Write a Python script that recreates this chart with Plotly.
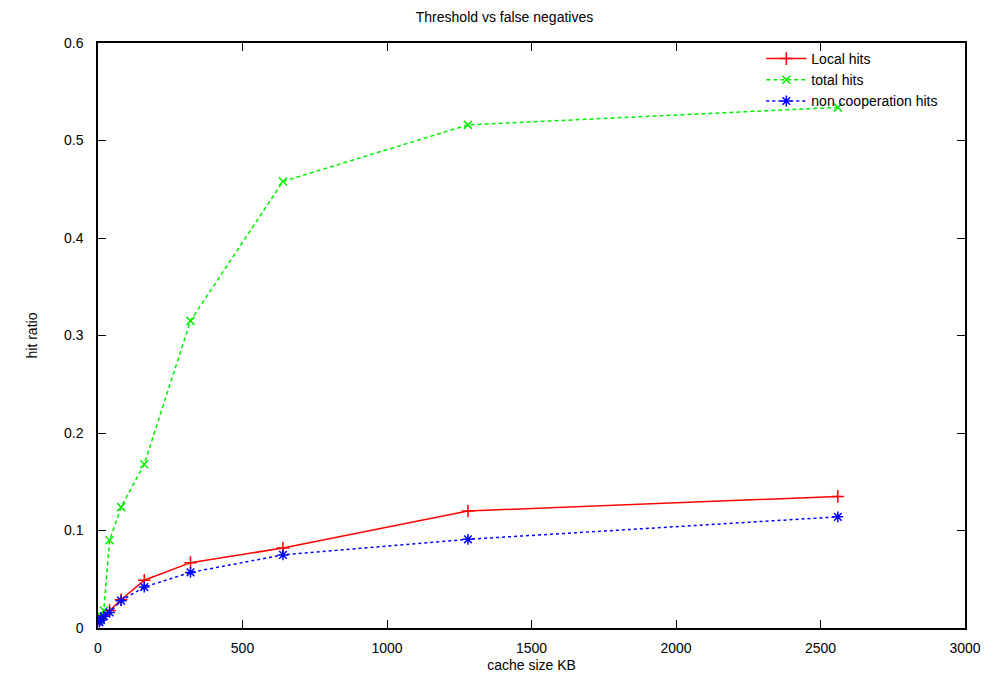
import plotly.graph_objects as go

cache_kb = [5, 10, 20, 40, 80, 160, 320, 640, 1280, 2560]
local_hits = [0.008, 0.010, 0.013, 0.018, 0.029, 0.049, 0.067, 0.082, 0.120, 0.135]
total_hits = [0.008, 0.012, 0.018, 0.090, 0.124, 0.168, 0.315, 0.458, 0.516, 0.534]
noncoop_hits = [0.006, 0.008, 0.012, 0.016, 0.028, 0.042, 0.057, 0.075, 0.091, 0.114]

x_ticks = [0, 500, 1000, 1500, 2000, 2500, 3000]
y_ticks = [0, 0.1, 0.2, 0.3, 0.4, 0.5, 0.6]
y_tick_text = ["0", "0.1", "0.2", "0.3", "0.4", "0.5", "0.6"]

FONT = "Liberation Sans, Arial, sans-serif"

fig = go.Figure()
fig.add_trace(go.Scatter(x=cache_kb, y=local_hits, name="Local hits", mode="lines+markers",
                         line=dict(color="#ff0000", width=1.5, dash="solid"),
                         marker=dict(symbol="cross-thin-open", size=9, color="#ff0000",
                                     line=dict(color="#ff0000", width=1.5))))
fig.add_trace(go.Scatter(x=cache_kb, y=total_hits, name="total hits", mode="lines+markers",
                         line=dict(color="#00ee00", width=1.5, dash="4px,3px"),
                         marker=dict(symbol="x-thin-open", size=8, color="#00ee00",
                                     line=dict(color="#00ee00", width=1.5))))
fig.add_trace(go.Scatter(x=cache_kb, y=noncoop_hits, name="non cooperation hits", mode="lines+markers",
                         line=dict(color="#0000ff", width=1.5, dash="dot"),
                         marker=dict(symbol="asterisk-open", size=9, color="#0000ff",
                                     line=dict(color="#0000ff", width=1.5))))

axis_common = dict(showgrid=False, zeroline=False, showline=True, linecolor="black", linewidth=1.5,
                   mirror="allticks", ticks="inside", ticklen=8, tickcolor="black", tickwidth=1,
                   tickfont=dict(family=FONT, size=14, color="black"))

fig.update_layout(
    width=993, height=686,
    margin=dict(l=90, r=36, t=35, b=66),
    paper_bgcolor="white", plot_bgcolor="white",
    title=dict(text="Threshold vs false negatives", x=0.5, xanchor="center", y=0.987, yanchor="middle",
               font=dict(family=FONT, size=14, color="black")),
    xaxis=dict(range=[0, 3000], tickvals=x_ticks, ticklabelstandoff=6,
               title=dict(text="cache size KB", standoff=6,
                          font=dict(family=FONT, size=14, color="black")), **axis_common),
    yaxis=dict(range=[0, 0.6], tickvals=y_ticks, ticktext=y_tick_text, ticklabelstandoff=10,
               title=dict(text="hit ratio", standoff=23, font=dict(family=FONT, size=14, color="black")),
               **axis_common),
    legend=dict(x=0.975, y=1.0, xanchor="right", yanchor="top", bgcolor="rgba(0,0,0,0)",
                font=dict(family=FONT, size=14, color="black"), itemwidth=40, tracegroupgap=0),
    showlegend=True,
)

fig.write_html("out.html")
